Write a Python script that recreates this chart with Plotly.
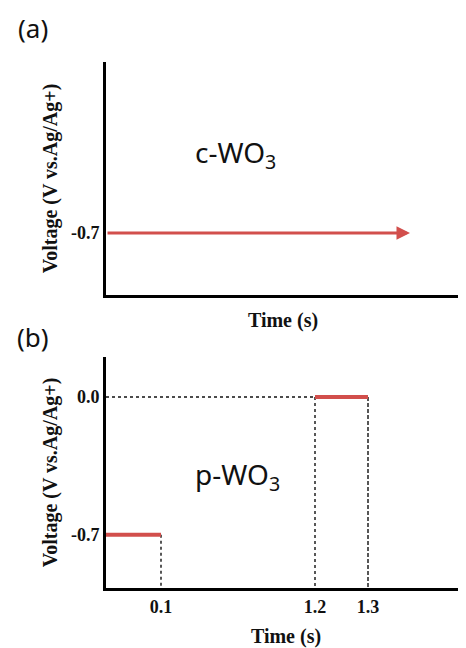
import numpy as np
import plotly.graph_objects as go
from plotly.subplots import make_subplots

# ---------------- data ----------------
c_voltage = [-0.7]                 # constant potential, c-WO3
p_start_times = [0.0, 1.2]         # pulse segment start (s)
p_end_times = [0.1, 1.3]           # pulse segment end (s)
p_voltages = [-0.7, 0.0]           # pulse potentials (V vs Ag/Ag+)
time_tick_labels = ["0.1", "1.2", "1.3"]
time_ticks = [0.1, 1.2, 1.3]
volt_ticks_a = [-0.7]
volt_tick_labels_a = ["-0.7"]
volt_ticks_b = [-0.7, 0.0]
volt_tick_labels_b = ["-0.7", "0.0"]

# schematic (broken) time axis: anchor times -> axis units
anchor_t = [0.0, 0.1, 1.2, 1.3]
anchor_u = [0.0, 0.55, 2.09, 2.62]


def sx(t):
    return float(np.interp(t, anchor_t, anchor_u))


RED = "#d24f4c"
SERIF = "Liberation Serif"
SANS = "Noto Sans"

# page body adds an 8px margin; lay out in reference pixels minus that offset
OFF = 8
W, H = 466 - OFF, 648 - OFF
L, R = 106 - OFF, 0
pw = W - L - R


def px_to_paper_x(px):
    return (px - OFF - L) / pw


def px_to_paper_y(py):
    return 1 - (py - OFF) / H


fig = make_subplots(rows=2, cols=1)

ya_range = [-1.015, 0.168]
yb_range = [-0.97, 0.203]
ybot = yb_range[0]

guide = dict(color="#111", width=1.4)
# horizontal dotted at 0.0 V from axis to 1.2 s
fig.add_trace(go.Scatter(x=[0, sx(p_start_times[1])], y=[p_voltages[1]] * 2, mode="lines",
                         line=dict(**guide, dash="dot"), showlegend=False, hoverinfo="skip"),
              row=2, col=1)
# vertical dotted at 0.1 s
fig.add_trace(go.Scatter(x=[sx(p_end_times[0])] * 2, y=[p_voltages[0], ybot], mode="lines",
                         line=dict(**guide, dash="dot"), showlegend=False, hoverinfo="skip"),
              row=2, col=1)
# vertical dotted at 1.2 s
fig.add_trace(go.Scatter(x=[sx(p_start_times[1])] * 2, y=[p_voltages[1], ybot], mode="lines",
                         line=dict(**guide, dash="dot"), showlegend=False, hoverinfo="skip"),
              row=2, col=1)
# vertical dashed at 1.3 s
fig.add_trace(go.Scatter(x=[sx(p_end_times[1])] * 2, y=[p_voltages[1], ybot], mode="lines",
                         line=dict(**guide, dash="4px,2px"), showlegend=False, hoverinfo="skip"),
              row=2, col=1)

# red pulse segments
for t0, t1, v in zip(p_start_times, p_end_times, p_voltages):
    fig.add_trace(go.Scatter(x=[sx(t0), sx(t1)], y=[v, v], mode="lines",
                             line=dict(color=RED, width=4), showlegend=False,
                             name=f"{v} V"), row=2, col=1)

# panel (a) constant potential arrow
arrow_end_u = 3.04
fig.add_annotation(x=arrow_end_u, y=c_voltage[0], ax=0, ay=c_voltage[0],
                   xref="x", yref="y", axref="x", ayref="y", text="",
                   showarrow=True, arrowhead=2, arrowsize=0.9, arrowwidth=3,
                   arrowcolor=RED)

# text labels
fig.add_annotation(x=1.29, y=-0.30, xref="x", yref="y", text="c-WO<sub>3</sub>",
                   showarrow=False, font=dict(family=SANS, size=28, color="#111"))
fig.add_annotation(x=1.31, y=-0.40, xref="x2", yref="y2", text="p-WO<sub>3</sub>",
                   showarrow=False, font=dict(family=SANS, size=28, color="#111"))
fig.add_annotation(x=px_to_paper_x(33), y=1.0, xref="paper", yref="paper",
                   xanchor="center", yanchor="top", text="(a)", showarrow=False,
                   font=dict(family=SANS, size=26, color="#111"))
fig.add_annotation(x=px_to_paper_x(33), y=px_to_paper_y(337), xref="paper", yref="paper",
                   xanchor="center", yanchor="middle", text="(b)", showarrow=False,
                   font=dict(family=SANS, size=26, color="#111"))

axis_common = dict(showline=True, linecolor="black", linewidth=3, showgrid=False,
                   zeroline=False, ticks="", mirror=False)
tickfont = dict(family=SERIF, size=18, color="#111")
titlefont = dict(family=SERIF, size=20, color="#111")


def bold(labels):
    return [f"<b>{s}</b>" for s in labels]


fig.update_layout(
    width=W, height=H, margin=dict(l=L, r=R, t=0, b=0),
    paper_bgcolor="white", plot_bgcolor="white", showlegend=False,
    xaxis=dict(**axis_common, domain=[0, (460 - 106) / pw], range=[0, (460 - 106) / 100],
               showticklabels=False,
               title=dict(text="<b>Time (s)</b>", font=titlefont, standoff=16)),
    yaxis=dict(**axis_common, domain=[px_to_paper_y(295), px_to_paper_y(62)],
               range=ya_range, tickvals=volt_ticks_a, ticktext=bold(volt_tick_labels_a),
               tickfont=tickfont,
               title=dict(text="<b>Voltage (V vs.Ag/Ag+)</b>", font=titlefont, standoff=8)),
    xaxis2=dict(**axis_common, domain=[0, 1], range=[0, pw / 100],
                tickvals=[sx(t) for t in time_ticks], ticktext=bold(time_tick_labels),
                tickfont=tickfont,
                title=dict(text="<b>Time (s)</b>", font=titlefont, standoff=14)),
    yaxis2=dict(**axis_common, domain=[px_to_paper_y(588), px_to_paper_y(357)],
                range=yb_range, tickvals=volt_ticks_b, ticktext=bold(volt_tick_labels_b),
                tickfont=tickfont,
                title=dict(text="<b>Voltage (V vs.Ag/Ag+)</b>", font=titlefont, standoff=8)),
)

fig.write_html("out.html")
